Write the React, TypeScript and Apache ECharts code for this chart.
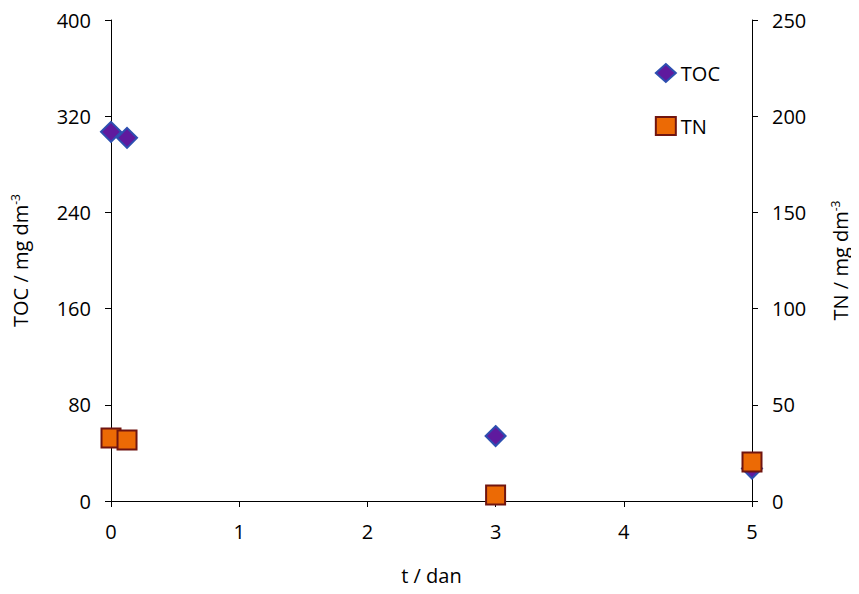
import React, { useEffect, useRef } from "react";
import * as echarts from "echarts";

const tValues = [0, 0.125, 3, 5];
const tocValues = [307, 302, 54, 27];
const tnValues = [32.7, 31.7, 3.1, 20.3];
const xTicks = { min: 0, max: 5, interval: 1 };
const leftTicks = { min: 0, max: 400, interval: 80 };
const rightTicks = { min: 0, max: 250, interval: 50 };

const FONT = "'Open Sans', 'Noto Sans', sans-serif";

export default function App() {
  const ref = useRef<HTMLDivElement>(null);
  useEffect(() => {
    if (!ref.current) return;
    const chart = echarts.init(ref.current, null, { renderer: "svg" });
    const axisCommon = {
      axisLine: { show: true, lineStyle: { color: "#000", width: 1 } },
      axisTick: { show: true, inside: false, length: 6, lineStyle: { color: "#000" } },
      splitLine: { show: false },
    };
    const yLabel = { color: "#000", fontSize: 20, fontFamily: FONT, margin: 20 };
    const nameRich = {
      a: { fontSize: 20, fontFamily: FONT, color: "#000" },
      s: { fontSize: 12, fontFamily: FONT, color: "#000", verticalAlign: "top", padding: [0, 0, 10, 0] },
    };
    chart.setOption({
      animation: false,
      backgroundColor: "#fff",
      grid: { left: 111, right: 107, top: 20, bottom: 93, containLabel: false, outerBoundsMode: "none" },
      legend: {
        orient: "vertical",
        right: 134,
        top: 58,
        itemGap: 33,
        itemWidth: 20,
        itemHeight: 18,
        textStyle: { fontSize: 20, fontFamily: FONT, color: "#000" },
        data: [
          { name: "TOC", icon: "diamond" },
          { name: "TN", icon: "rect" },
        ],
      },
      xAxis: {
        type: "value",
        ...xTicks,
        ...axisCommon,
        axisLabel: { color: "#000", fontSize: 20, fontFamily: FONT, margin: 20 },
        name: "t / dan",
        nameLocation: "middle",
        nameGap: 64,
        nameTextStyle: { fontSize: 20, fontFamily: FONT, color: "#000" },
      },
      yAxis: [
        {
          type: "value",
          position: "left",
          ...leftTicks,
          ...axisCommon,
          axisLabel: yLabel,
          name: "{a|TOC / mg dm}{s|-3}",
          nameLocation: "middle",
          nameGap: 80,
          nameRotate: 90,
          nameTextStyle: { rich: nameRich },
        },
        {
          type: "value",
          position: "right",
          ...rightTicks,
          ...axisCommon,
          axisLabel: yLabel,
          name: "{a|TN / mg dm}{s|-3}",
          nameLocation: "middle",
          nameGap: 77,
          nameRotate: 90,
          nameTextStyle: { rich: nameRich },
        },
      ],
      series: [
        {
          name: "TOC",
          type: "scatter",
          yAxisIndex: 0,
          symbol: "diamond",
          symbolSize: 20,
          itemStyle: { color: "#5f1a9e", borderColor: "#2d4fb0", borderWidth: 2, opacity: 1 },
          data: tValues.map((t, i) => [t, tocValues[i]]),
          z: 2,
        },
        {
          name: "TN",
          type: "scatter",
          yAxisIndex: 1,
          symbol: "rect",
          symbolSize: 19,
          itemStyle: { color: "#ec6a05", borderColor: "#701510", borderWidth: 2, opacity: 1 },
          data: tValues.map((t, i) => [t, tnValues[i]]),
          z: 3,
        },
      ],
    });
    return () => chart.dispose();
  }, []);
  return <div ref={ref} style={{ width: 859, height: 594, margin: -8 }} />;
}
